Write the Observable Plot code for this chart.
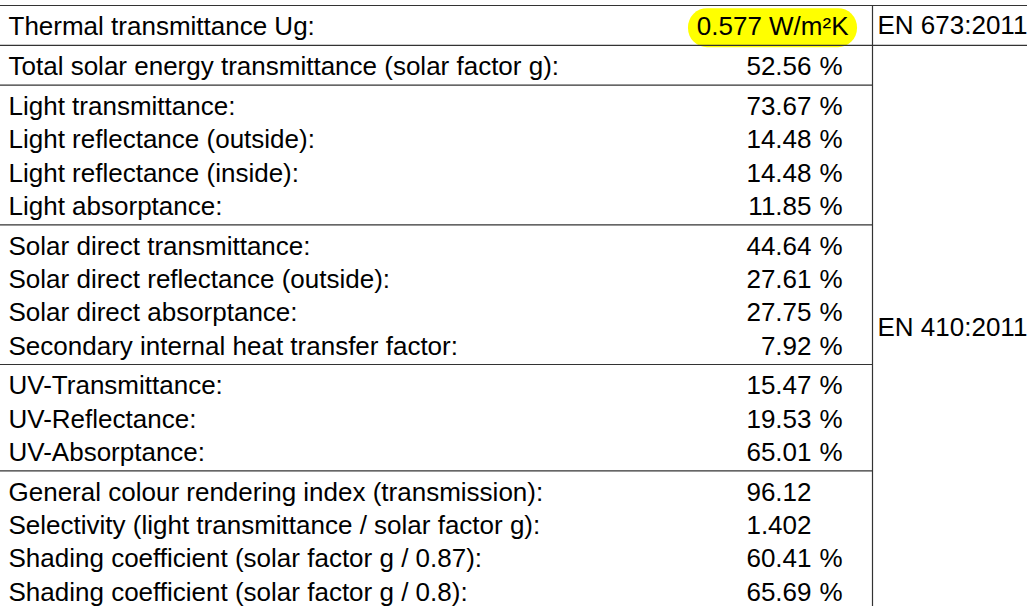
<!DOCTYPE html>
<html>
<head>
<meta charset="utf-8">
<script src="https://cdn.jsdelivr.net/npm/d3@7"></script>
<script src="https://cdn.jsdelivr.net/npm/@observablehq/plot@0.6"></script>
<style>
  html, body { margin: 0; padding: 0; background: #fff; }
  #chart { width: 1027px; height: 606px; overflow: hidden; }
</style>
</head>
<body>
<div id="chart"></div>
<script>
// ---- Data ----
const labels = [
  "Thermal transmittance Ug:",
  "Total solar energy transmittance (solar factor g):",
  "Light transmittance:",
  "Light reflectance (outside):",
  "Light reflectance (inside):",
  "Light absorptance:",
  "Solar direct transmittance:",
  "Solar direct reflectance (outside):",
  "Solar direct absorptance:",
  "Secondary internal heat transfer factor:",
  "UV-Transmittance:",
  "UV-Reflectance:",
  "UV-Absorptance:",
  "General colour rendering index (transmission):",
  "Selectivity (light transmittance / solar factor g):",
  "Shading coefficient (solar factor g / 0.87):",
  "Shading coefficient (solar factor g / 0.8):"
];
const values = ["0.577", "52.56", "73.67", "14.48", "14.48", "11.85", "44.64", "27.61", "27.75", "7.92", "15.47", "19.53", "65.01", "96.12", "1.402", "60.41", "65.69"];
const units = ["W/m²K", "%", "%", "%", "%", "%", "%", "%", "%", "%", "%", "%", "%", "", "", "%", "%"];
const groupSizes = [1, 1, 4, 4, 3, 4];
const standards = ["EN 673:2011", "EN 410:2011"];
const standardRows = [[0, 0], [1, 16]];
const highlightedRows = [0];

// ---- Layout ----
(function () {
  const W = 1027, H = 606;
  const tableTop = 5, rowH = 33.3, padTop = 5, padBot = 1.5;
  const colSplit = 872;
  const rowY = [];
  const groupLines = [tableTop];
  const groupStartRow = [];
  let yy = tableTop, r = 0;
  for (const n of groupSizes) {
    groupStartRow.push(r);
    yy += padTop;
    for (let i = 0; i < n; i++) { rowY.push(yy + rowH / 2); yy += rowH; r++; }
    yy += padBot;
    groupLines.push(yy);
  }
  const rows = labels.map((label, i) => ({
    label, value: values[i], unit: units[i], y: rowY[i],
    text: units[i] === "W/m²K" ? values[i] + " " + units[i] : values[i]
  }));
  const stdCells = standards.map((s, k) => {
    const [a, b] = standardRows[k];
    const gA = groupStartRow.indexOf(a);
    const gB = groupStartRow.findIndex((st, gi) => st + groupSizes[gi] - 1 === b);
    const y1 = groupLines[gA], y2 = groupLines[gB + 1];
    return { label: s, y: (y1 + Math.min(y2, H + 4)) / 2, y1, y2 };
  });

  const fontFamily = "'Liberation Sans', Arial, Helvetica, sans-serif";
  const fs = 26;

  const hRules = groupLines.slice(0, -1).map((gy) => ({
    y: gy, x1: 0, x2: stdCells.some(c => c.y1 === gy) ? W : colSplit
  }));

  const hl = highlightedRows.map(i => ({ y1: rowY[i] - 18.5, y2: rowY[i] + 20.5, x1: 688, x2: 857 }));

  const ugRows = rows.filter(d => d.unit === "W/m²K");
  const valueRows = rows.filter(d => d.unit !== "W/m²K");
  const pctRows = rows.filter(d => d.unit === "%");

  const chart = Plot.plot({
    width: W,
    height: H,
    margin: 0,
    x: { type: "linear", domain: [0, W], range: [0, W], axis: null },
    y: { type: "linear", domain: [0, H], range: [0, H], axis: null },
    style: { fontFamily, fontSize: fs + "px", background: "#fff", color: "#000" },
    marks: [
      Plot.rect(hl, { x1: "x1", x2: "x2", y1: "y1", y2: "y2", fill: "#ffff00", rx: 19 }),
      Plot.ruleY(hRules, { y: "y", x1: "x1", x2: "x2", stroke: "#333", strokeWidth: 1.2 }),
      Plot.ruleX([colSplit], { y1: tableTop, y2: H, stroke: "#333", strokeWidth: 1.2 }),
      Plot.text(rows, { x: 8, y: "y", text: "label", textAnchor: "start", fontSize: fs, fill: "#000" }),
      Plot.text(ugRows, { x: 848, y: "y", text: "text", textAnchor: "end", fontSize: fs, fill: "#000" }),
      Plot.text(valueRows, { x: 811, y: "y", text: "value", textAnchor: "end", fontSize: fs, fill: "#000" }),
      Plot.text(pctRows, { x: 842, y: "y", text: "unit", textAnchor: "end", fontSize: fs, fill: "#000" }),
      Plot.text(stdCells, { x: 877, y: "y", text: "label", textAnchor: "start", fontSize: fs, fill: "#000" })
    ]
  });
  document.getElementById("chart").appendChild(chart);
})();
</script>
</body>
</html>
